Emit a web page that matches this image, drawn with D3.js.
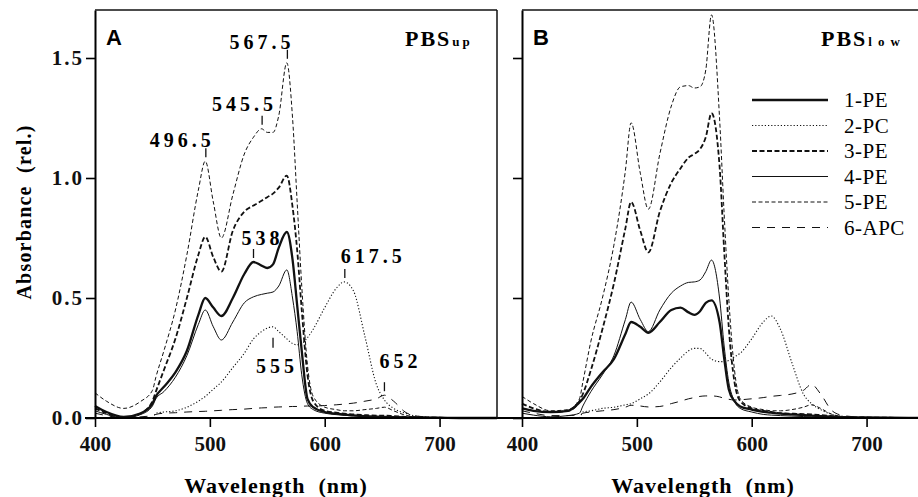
<!DOCTYPE html>
<html>
<head>
<meta charset="utf-8">
<script src="https://cdn.jsdelivr.net/npm/d3@7"></script>
<style>
  body { margin: 0; background: #fff; }
  svg { display: block; }
  .serif { font-family: "Liberation Serif", "Times New Roman", serif; font-weight: bold; }
</style>
</head>
<body>
<div class="spectra"></div>
<script>
// Wavelength grids (nm) for each panel
const nmA = [400, 410, 425, 440, 450, 453, 460, 470, 480, 490, 496, 503, 510, 520, 530, 538, 545, 550, 555, 560, 567, 572, 576, 580, 585, 590, 600, 610, 617, 625, 635, 645, 652, 660, 670, 680, 700, 720, 750];
const nmB = [400, 410, 425, 440, 450, 453, 460, 470, 480, 490, 495, 503, 510, 520, 530, 538, 545, 550, 555, 560, 565, 572, 576, 580, 585, 590, 600, 610, 617, 625, 635, 645, 652, 660, 670, 680, 700, 720, 750];

const seriesNames = ["1-PE", "2-PC", "3-PE", "4-PE", "5-PE", "6-APC"];

// Panel A (PBSup) absorbance
const a1PE = [0.05, 0.025, 0.005, 0.02, 0.06, 0.09, 0.13, 0.19, 0.28, 0.43, 0.50, 0.46, 0.425, 0.50, 0.60, 0.65, 0.635, 0.625, 0.64, 0.71, 0.775, 0.66, 0.47, 0.28, 0.08, 0.045, 0.025, 0.018, 0.014, 0.011, 0.008, 0.006, 0.005, 0.004, 0.003, 0.002, 0.001, 0, 0];
const a2PC = [0, 0, 0, 0, 0, 0.02, 0.025, 0.03, 0.045, 0.07, 0.09, 0.12, 0.15, 0.21, 0.27, 0.33, 0.36, 0.375, 0.38, 0.36, 0.33, 0.31, 0.305, 0.31, 0.335, 0.37, 0.46, 0.54, 0.567, 0.53, 0.34, 0.14, 0.075, 0.04, 0.02, 0.008, 0.001, 0, 0];
const a3PE = [0.04, 0.02, 0, 0.02, 0.07, 0.11, 0.20, 0.33, 0.50, 0.68, 0.755, 0.67, 0.61, 0.78, 0.86, 0.885, 0.905, 0.92, 0.935, 0.96, 1.01, 0.88, 0.70, 0.45, 0.18, 0.07, 0.03, 0.022, 0.018, 0.015, 0.012, 0.01, 0.01, 0.008, 0.005, 0.003, 0.001, 0, 0];
const a4PE = [0.03, 0.015, 0, 0.015, 0.05, 0.08, 0.11, 0.17, 0.26, 0.39, 0.45, 0.38, 0.325, 0.40, 0.48, 0.505, 0.515, 0.52, 0.525, 0.55, 0.617, 0.50, 0.36, 0.18, 0.06, 0.035, 0.02, 0.014, 0.011, 0.009, 0.007, 0.005, 0.004, 0.003, 0.002, 0.001, 0, 0, 0];
const a5PE = [0.105, 0.07, 0.04, 0.07, 0.115, 0.17, 0.28, 0.45, 0.68, 0.95, 1.07, 0.90, 0.75, 0.93, 1.10, 1.17, 1.205, 1.19, 1.19, 1.26, 1.48, 1.25, 0.90, 0.55, 0.22, 0.09, 0.045, 0.035, 0.03, 0.03, 0.035, 0.04, 0.045, 0.03, 0.012, 0.005, 0.002, 0.001, 0];
const a6APC = [0.02, 0.01, 0, 0.005, 0.01, 0.015, 0.02, 0.022, 0.025, 0.027, 0.028, 0.03, 0.032, 0.035, 0.037, 0.04, 0.042, 0.043, 0.045, 0.046, 0.047, 0.048, 0.048, 0.049, 0.05, 0.05, 0.052, 0.055, 0.058, 0.062, 0.07, 0.08, 0.095, 0.07, 0.025, 0.008, 0.002, 0, 0];

// Panel B (PBSlow) absorbance
const b1PE = [0.04, 0.03, 0.025, 0.03, 0.065, 0.08, 0.13, 0.19, 0.245, 0.35, 0.40, 0.38, 0.355, 0.40, 0.45, 0.46, 0.44, 0.43, 0.445, 0.48, 0.49, 0.40, 0.25, 0.12, 0.07, 0.048, 0.035, 0.026, 0.022, 0.018, 0.015, 0.012, 0.01, 0.008, 0.006, 0.004, 0.002, 0.001, 0];
const b2PC = [0, 0, 0, 0, 0, 0.025, 0.03, 0.04, 0.045, 0.055, 0.06, 0.08, 0.10, 0.15, 0.21, 0.25, 0.28, 0.29, 0.29, 0.27, 0.245, 0.235, 0.235, 0.24, 0.255, 0.27, 0.33, 0.40, 0.425, 0.37, 0.23, 0.10, 0.06, 0.035, 0.015, 0.006, 0.001, 0, 0];
const b3PE = [0.06, 0.04, 0.025, 0.03, 0.07, 0.10, 0.20, 0.37, 0.56, 0.79, 0.90, 0.78, 0.69, 0.86, 0.98, 1.04, 1.085, 1.10, 1.12, 1.17, 1.27, 1.05, 0.70, 0.38, 0.15, 0.07, 0.04, 0.03, 0.025, 0.02, 0.018, 0.016, 0.015, 0.012, 0.008, 0.004, 0.002, 0.001, 0];
const b4PE = [0.02, 0.012, 0.005, 0.01, 0.02, 0.05, 0.11, 0.18, 0.26, 0.41, 0.483, 0.41, 0.36, 0.45, 0.52, 0.55, 0.565, 0.567, 0.575, 0.61, 0.658, 0.50, 0.30, 0.15, 0.07, 0.04, 0.025, 0.015, 0.012, 0.01, 0.008, 0.006, 0.005, 0.004, 0.003, 0.002, 0.001, 0, 0];
const b5PE = [0.09, 0.06, 0.03, 0.035, 0.08, 0.15, 0.32, 0.50, 0.72, 1.03, 1.23, 1.02, 0.87, 1.10, 1.30, 1.38, 1.385, 1.375, 1.38, 1.45, 1.68, 1.25, 0.85, 0.50, 0.20, 0.08, 0.045, 0.035, 0.03, 0.03, 0.035, 0.045, 0.055, 0.04, 0.015, 0.006, 0.002, 0.001, 0];
const b6APC = [0.03, 0.02, 0.01, 0.01, 0.015, 0.02, 0.025, 0.03, 0.035, 0.045, 0.053, 0.05, 0.046, 0.048, 0.06, 0.07, 0.08, 0.085, 0.09, 0.092, 0.092, 0.088, 0.082, 0.078, 0.075, 0.076, 0.08, 0.085, 0.09, 0.094, 0.10, 0.115, 0.14, 0.10, 0.03, 0.01, 0.002, 0, 0];

// Peak annotations on panel A (wavelength, absorbance at peak, label)
const peaksA = [
  { nm: 496.5, value: 1.07, text: "496.5" },
  { nm: 545.5, value: 1.205, text: "545.5" },
  { nm: 567.5, value: 1.48, text: "567.5" },
  { nm: 538, value: 0.65, text: "538" },
  { nm: 617.5, value: 0.567, text: "617.5" },
  { nm: 555, value: 0.38, text: "555" },
  { nm: 652, value: 0.095, text: "652" }
];

const xTicks = [400, 500, 600, 700];
const yTicks = [0, 0.5, 1.0, 1.5];

// line style for each series (same order as seriesNames)
const lineStyle = [
  { width: 2.3, dash: null },
  { width: 1.1, dash: "1.2,2" },
  { width: 1.8, dash: "5,2.5" },
  { width: 1, dash: null },
  { width: 1, dash: "4,2.5" },
  { width: 1, dash: "8,7" }
];
// label placement relative to the peak point
const peakOffsets = {
  "496.5": [-56, -14], "545.5": [-50, -18], "567.5": [-58, -14], "538": [-12, -17],
  "617.5": [-4, -19], "555": [-17, 46], "652": [-5, -27]
};

const width = 918, height = 497;
const svg = d3.select(".spectra").append("svg")
  .attr("width", width)
  .attr("height", height);

const y = d3.scaleLinear().domain([0, 1.7]).range([418, 10]);
const xA = d3.scaleLinear().domain([400, 750]).range([95, 497]);
const xB = d3.scaleLinear().domain([400, 750]).range([522, 924]);

function drawPanel(x, nm, seriesData, showYLabels) {
  const g = svg.append("g");

  // curves
  seriesData.forEach((vals, i) => {
    const line = d3.line()
      .x((d, j) => x(nm[j]))
      .y(d => y(d))
      .curve(d3.curveMonotoneX);
    g.append("path")
      .datum(vals)
      .attr("d", line)
      .attr("fill", "none")
      .attr("stroke", "#111")
      .attr("stroke-width", lineStyle[i].width)
      .attr("stroke-dasharray", lineStyle[i].dash);
  });

  // x axis
  const xAxis = g.append("g")
    .attr("transform", `translate(0, ${y(0)})`)
    .call(d3.axisBottom(x).tickValues(xTicks).tickSize(9).tickSizeOuter(0).tickPadding(9));
  xAxis.select(".domain").attr("stroke-width", 2).attr("d", `M${x(400) - 10},0H${width + 10}`);
  xAxis.selectAll(".tick line").attr("stroke-width", 1.6);
  xAxis.selectAll("text")
    .attr("class", "serif")
    .style("font-size", "21px")
    .attr("fill", "#111");

  // y axis
  const yAxis = g.append("g")
    .attr("transform", `translate(${x(400)}, 0)`)
    .call(d3.axisLeft(y).tickValues(yTicks).tickSize(9).tickSizeOuter(0).tickPadding(2)
      .tickFormat(showYLabels ? d3.format(".1f") : ""));
  yAxis.select(".domain").attr("stroke-width", 2);
  yAxis.selectAll(".tick line").attr("stroke-width", 1.6);
  yAxis.selectAll("text")
    .attr("class", "serif")
    .style("font-size", "21px")
    .style("letter-spacing", "2px")
    .attr("fill", "#111");

  // top frame
  g.append("line")
    .attr("x1", x(400)).attr("x2", Math.min(x(750), width))
    .attr("y1", y(1.7)).attr("y2", y(1.7))
    .attr("stroke", "#111").attr("stroke-width", 1.5);

  // x label
  g.append("text")
    .attr("class", "serif")
    .attr("x", x(400) + 181)
    .attr("y", 493)
    .attr("text-anchor", "middle")
    .style("font-size", "22px")
    .style("letter-spacing", "1px")
    .style("white-space", "pre")
    .text("Wavelength  (nm)");
  return g;
}

const gA = drawPanel(xA, nmA, [a1PE, a2PC, a3PE, a4PE, a5PE, a6APC], true);
const gB = drawPanel(xB, nmB, [b1PE, b2PC, b3PE, b4PE, b5PE, b6APC], false);

// right frame of panel A
gA.append("line")
  .attr("x1", xA(750)).attr("x2", xA(750))
  .attr("y1", y(1.7)).attr("y2", y(0))
  .attr("stroke", "#111").attr("stroke-width", 1.5);

// y label
svg.append("text")
  .attr("class", "serif")
  .attr("transform", "translate(31, 212) rotate(-90)")
  .attr("text-anchor", "middle")
  .style("font-size", "20px")
  .style("letter-spacing", "1.2px")
  .style("white-space", "pre")
  .text("Absorbance  (rel.)");

// panel letters
[["A", xA], ["B", xB]].forEach(([letter, x]) => {
  svg.append("text")
    .attr("x", x(400) + 11)
    .attr("y", 45)
    .style("font-family", "'Liberation Sans', Arial, sans-serif")
    .style("font-weight", "bold")
    .style("font-size", "22px")
    .text(letter);
});

// PBS titles
[["up", xA, 405, 3], ["low", xB, 821, 6]].forEach(([sub, x, left, spacing]) => {
  const t = svg.append("text")
    .attr("class", "serif")
    .attr("x", left)
    .attr("y", 46)
    .style("font-size", "22px")
    .style("letter-spacing", "2px");
  t.append("tspan").text("PBS");
  t.append("tspan")
    .attr("dx", 1)
    .style("font-size", "13px")
    .style("letter-spacing", spacing + "px")
    .text(sub);
});

// peak annotations
peaksA.forEach(p => {
  const px = xA(p.nm), py = y(p.value);
  const [dx, dy] = peakOffsets[p.text];
  const below = dy > 0;
  gA.append("line")
    .attr("x1", px).attr("x2", px)
    .attr("y1", below ? py + 11 : py - 4)
    .attr("y2", below ? py + 21 : py - 13)
    .attr("stroke", "#111").attr("stroke-width", 1.3);
  gA.append("text")
    .attr("class", "serif")
    .attr("x", px + dx)
    .attr("y", py + dy)
    .style("font-size", "20px")
    .style("letter-spacing", "4px")
    .text(p.text);
});

// legend in panel B
const legend = svg.append("g").attr("transform", "translate(752, 100)");
const legendItems = legend.selectAll("g")
  .data(seriesNames)
  .join("g")
  .attr("transform", (d, i) => `translate(0, ${i * 25.5})`);
legendItems.append("line")
  .attr("x1", 0).attr("x2", 76)
  .attr("stroke", "#111")
  .attr("stroke-width", (d, i) => lineStyle[i].width)
  .attr("stroke-dasharray", (d, i) => lineStyle[i].dash);
legendItems.append("text")
  .attr("x", 92)
  .attr("y", 7)
  .style("font-family", "'Liberation Serif', 'Times New Roman', serif")
  .style("font-size", "21px")
  .style("letter-spacing", "0.5px")
  .text(d => d);
</script>
</body>
</html>
